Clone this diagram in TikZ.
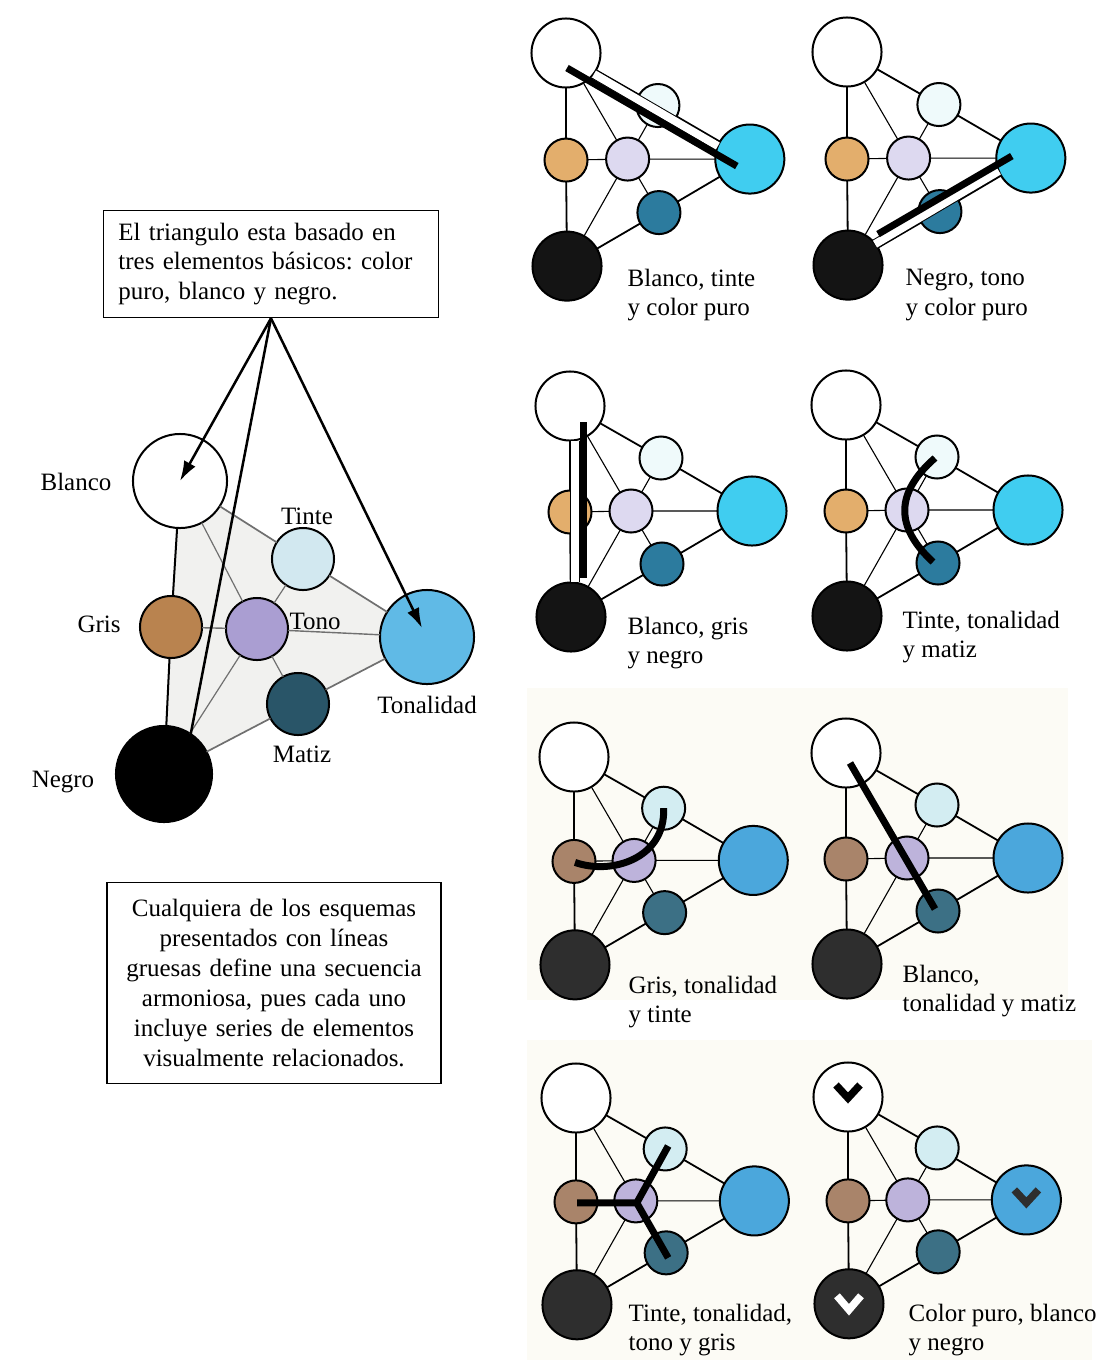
\documentclass[tikz,border=0pt]{standalone}
\usepackage{fontspec}
\setmainfont{Liberation Serif}
\usetikzlibrary{arrows.meta,calc,backgrounds}
\frenchspacing

% colores del triangulo principal
\definecolor{pgris}{HTML}{B9834F}
\definecolor{ptono}{HTML}{AA9ED2}
\definecolor{ptinte}{HTML}{D2E8F0}
\definecolor{ptonal}{HTML}{60BAE6}
\definecolor{pmatiz}{HTML}{295568}
\definecolor{pfondo}{HTML}{F1F1EF}
\definecolor{parista}{HTML}{707070}
% colores vivos (filas 1 y 2)
\definecolor{vivgris}{HTML}{E3AE6C}
\definecolor{vivtono}{HTML}{DDD9F0}
\definecolor{vivtinte}{HTML}{EFFAFB}
\definecolor{vivtonal}{HTML}{40CDF0}
\definecolor{vivmatiz}{HTML}{2C7B9E}
\definecolor{vivnegro}{HTML}{141414}
% colores apagados (filas 3 y 4)
\definecolor{mutgris}{HTML}{A9846A}
\definecolor{muttono}{HTML}{BDB3DB}
\definecolor{muttinte}{HTML}{D3EDF2}
\definecolor{muttonal}{HTML}{4BA7DC}
\definecolor{mutmatiz}{HTML}{3C7085}
\definecolor{mutnegro}{HTML}{2E2E2E}
\definecolor{crema}{HTML}{FCFBF5}

\tikzset{
  bola/.style={circle, draw=black, line width=0.02cm, inner sep=0pt, outer sep=0pt},
  grande/.style={bola, minimum size=0.69cm},
  chica/.style={bola, minimum size=0.43cm},
  arista/.style={line width=0.018cm},
  fina/.style={line width=0.011cm},
  gruesa/.style={line width=0.07cm},
  banda/.style={draw=black, line width=0.01cm, double=white, double distance=0.08cm},
  marca/.style={line width=0.075cm},
  letra/.style={font=\fontsize{7.1}{8.5}\selectfont},
  texto/.style={letra, inner sep=0pt, align=left, anchor=west},
  caja/.style={letra, draw, line width=0.015cm},
  flecha/.style={line width=0.025cm, -{Latex[length=0.2cm,width=0.13cm]}}
}

% un esquema pequeno: #1,#2 centro del blanco, #3 nombre, #4 paleta, #5 escala
\newcommand{\esquema}[5]{%
  \begin{scope}[shift={(#1,#2)}, scale=#5]
    \node[grande, fill=white] (#3-b) at (0,0) {};
    \node[chica, fill=#4gris] (#3-g) at (0,106) {};
    \node[chica, fill=#4tono] (#3-o) at (61,105) {};
    \node[chica, fill=#4tinte] (#3-t) at (91,52) {};
    \node[grande, fill=#4tonal] (#3-l) at (182,105) {};
    \node[chica, fill=#4matiz] (#3-m) at (92,158) {};
    \node[grande, fill=#4negro] (#3-n) at (1,211) {};
  \end{scope}
  \draw[arista] (#3-b) -- (#3-g) -- (#3-n);
  \draw[arista] (#3-b) -- (#3-t) -- (#3-l) -- (#3-m) -- (#3-n);
  \draw[fina] (#3-b) -- (#3-o) -- (#3-n);
  \draw[fina] (#3-g) -- (#3-o) -- (#3-l);
  \draw[fina] (#3-t) -- (#3-o) -- (#3-m);
}

\begin{document}
\begin{tikzpicture}[x=0.01cm, y=-0.01cm]
\useasboundingbox (0,0) rectangle (1111,1360);

% triangulo principal
\node[bola, minimum size=0.94cm, fill=white] (blanco) at (180,481) {};
\node[bola, minimum size=0.62cm, fill=pgris] (gris) at (171,627) {};
\node[bola, minimum size=0.62cm, fill=ptono] (tono) at (257,629) {};
\node[bola, minimum size=0.62cm, fill=ptinte] (tinte) at (303,559) {};
\node[bola, minimum size=0.94cm, fill=ptonal] (tonalidad) at (427,637) {};
\node[bola, minimum size=0.62cm, fill=pmatiz] (matiz) at (298,704) {};
\node[bola, minimum size=0.96cm, fill=black] (negro) at (164,774) {};

\begin{pgfonlayer}{background}
  \fill[pfondo] (blanco.center) -- (tonalidad.center) -- (negro.center) -- cycle;
  \fill[crema] (527,688) rectangle (1068,1000);
  \fill[crema] (527,1040) rectangle (1092,1360);
\end{pgfonlayer}

\draw[line width=0.02cm] (blanco) -- (gris) -- (negro);
\draw[parista, line width=0.017cm] (blanco) -- (tinte) -- (tonalidad) -- (matiz) -- (negro);
\draw[parista, line width=0.012cm] (blanco) -- (tono) -- (negro);
\draw[parista, line width=0.014cm] (gris) -- (tono) -- (tonalidad);
\draw[parista, line width=0.012cm] (tinte) -- (tono) -- (matiz);

\node[letra] (lblanco) at (76,482) {Blanco};
\node[letra] (lgris) at (99,624) {Gris};
\node[letra] (ltono) at (315,621) {Tono};
\node[letra] (ltinte) at (307,516) {Tinte};
\node[letra] (ltonalidad) at (427,705) {Tonalidad};
\node[letra] (lmatiz) at (302,754) {Matiz};
\node[letra] (lnegro) at (63,782) {Negro};

\node[caja, text width=3.05cm, align=left, minimum height=1.07cm, inner xsep=0.15cm] (nota)
  at (271,264) {El triangulo esta basado en\\tres elementos básicos: color\\puro, blanco y negro.};
\draw[flecha] (nota.south) -- (blanco.center);
\draw[flecha] (nota.south) -- ($(negro.center)+(19,0)$);
\draw[flecha] (nota.south) -- ($(tonalidad.center)+(-5,-9)$);

\node[caja, text width=3.14cm, align=center, minimum height=2.01cm, inner xsep=0.1cm] (resumen)
  at (274,983) {Cualquiera de los esquemas\\presentados con líneas\\gruesas define una secuencia\\armoniosa, pues cada uno\\incluye series de elementos\\visualmente relacionados.};

% esquemas
\esquema{566}{53}{pa}{viv}{1.01}
\esquema{847}{52}{pb}{viv}{1.01}
\esquema{570}{406}{pc}{viv}{1.0}
\esquema{846}{405}{pd}{viv}{1.0}
\esquema{574}{757}{pe}{mut}{0.985}
\esquema{846}{753}{pf}{mut}{1.0}
\esquema{576}{1098}{pg}{mut}{0.98}
\esquema{848}{1097}{ph}{mut}{0.98}

% lineas gruesas
\draw[banda] ($(pa-b)+(28,21)$) -- ($(pa-l)+(-32,-13)$);
\draw[gruesa] ($(pa-b)+(1,15)$) -- ($(pa-l)+(-13,7)$);

\draw[banda] ($(pb-n)+(27,-21)$) -- ($(pb-l)+(-32,13)$);
\draw[gruesa] ($(pb-n)+(30,-31)$) -- ($(pb-l)+(-19,-2)$);

\draw[banda] ($(pc-b)+(5,35)$) -- ($(pc-n)+(4,-35)$);
\draw[gruesa] ($(pc-b)+(13,16)$) -- ($(pc-n)+(12,-39)$);

\draw[gruesa] ($(pd-t)+(-2,1)$) .. controls ($(pd-t)+(-42,36)$) and ($(pd-m)+(-43,-36)$) .. ($(pd-m)+(-5,-1)$);

\draw[gruesa] ($(pe-g)+(1,1)$) .. controls ($(pe-g)+(38,14)$) and ($(pe-t)+(2,50)$) .. (pe-t.center);

\draw[gruesa] ($(pf-b)+(4,10)$) -- ($(pf-m)+(-3,-2)$);

\draw[gruesa] ($(pg-g)+(1,1)$) -- ($(pg-o)+(1,2)$) -- ($(pg-t)+(3,-3)$);
\draw[gruesa] ($(pg-o)+(1,2)$) -- ($(pg-m)+(2,5)$);

\draw[marca] ($(ph-b)+(-12,-12)$) -- ($(ph-b)+(0,1)$) -- ($(ph-b)+(12,-12)$);
\draw[marca, mutnegro] ($(ph-l)+(-12,-10)$) -- ($(ph-l)+(0,3)$) -- ($(ph-l)+(12,-10)$);
\draw[marca, white] ($(ph-n)+(-12,-8)$) -- ($(ph-n)+(0,6)$) -- ($(ph-n)+(12,-8)$);

% textos
\node[texto] (ta) at (627,295) {Blanco, tinte\\y color puro};
\node[texto] (tb) at (905,295) {Negro, tono\\y color puro};
\node[texto] (tc) at (627,643) {Blanco, gris\\y negro};
\node[texto] (td) at (902,637) {Tinte, tonalidad\\y matiz};
\node[texto] (te) at (628,1002) {Gris, tonalidad\\y tinte};
\node[texto] (tf) at (902,991) {Blanco,\\tonalidad y matiz};
\node[texto] (tg) at (628,1330) {Tinte, tonalidad,\\tono y gris};
\node[texto] (th) at (908,1330) {Color puro, blanco\\y negro};
\end{tikzpicture}
\end{document}
